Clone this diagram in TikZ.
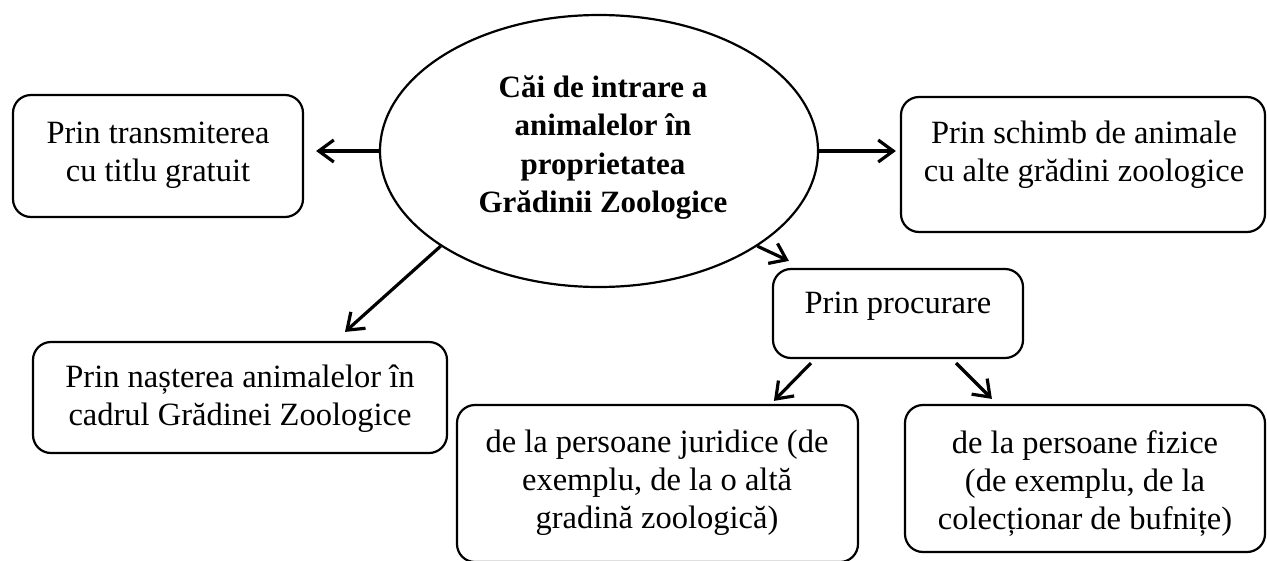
\documentclass[tikz,border=0pt]{standalone}
\usepackage{fontspec}
\setmainfont{Liberation Serif}
\usetikzlibrary{arrows.meta,calc,shapes.geometric}
\newcommand{\mlines}[1]{\begin{tabular}[t]{@{}c@{}}#1\end{tabular}}
\begin{document}
\begin{tikzpicture}[x=1pt,y=-1pt,
  box/.style={draw,line width=2.2pt,rounded corners=18pt,inner sep=0pt},
  oval/.style={draw,ellipse,line width=2.2pt,inner sep=0pt},
  txt/.style={inner sep=0pt,anchor=base,font=\fontsize{32.5}{38}\selectfont},
  ttl/.style={inner sep=0pt,anchor=base,font=\fontsize{31}{38.5}\selectfont\bfseries},
  arr/.style={line width=3.2pt,-{Straight Barb[length=15pt,width=22pt,line width=3.2pt]}}]
\useasboundingbox (0,0) rectangle (1267,560);
% shapes
\node[oval,minimum width=438pt,minimum height=272pt] (E) at (599,151) {};
\node[box,minimum width=290pt,minimum height=122pt] (L) at (158,156) {};
\node[box,minimum width=364pt,minimum height=135pt] (R) at (1083,164.5) {};
\node[box,minimum width=414pt,minimum height=111pt] (N) at (240,397.5) {};
\node[box,minimum width=250pt,minimum height=89pt] (P) at (898,313.5) {};
\node[box,minimum width=401pt,minimum height=157pt] (J) at (657.5,483.5) {};
\node[box,minimum width=360pt,minimum height=147pt] (F) at (1085,478.5) {};
% texts
\node[ttl] (Et) at (603,97) {\mlines{Căi de intrare a\\animalelor în\\proprietatea\\Grădinii Zoologice}};
\node[txt] (Lt) at (158,143) {\mlines{Prin transmiterea\\cu titlu gratuit}};
\node[txt] (Rt) at (1084,143) {\mlines{Prin schimb de animale\\cu alte grădini zoologice}};
\node[txt] (Nt) at (240,387) {\mlines{Prin nașterea animalelor în\\cadrul Grădinei Zoologice}};
\node[txt] (Pt) at (898,313) {Prin procurare};
\node[txt] (Jt) at (657,452) {\mlines{de la persoane juridice (de\\exemplu, de la o altă\\gradină zoologică)}};
\node[txt] (Ft) at (1085,453) {\mlines{de la persoane fizice\\(de exemplu, de la\\colecționar de bufnițe)}};
% connectors
\draw[arr,shorten >=12pt] (E.west) -- (E.west -| L.east);
\draw[arr,shorten >=4pt] (E.east) -- (E.east -| R.west);
\draw[arr] (E.211.9) -- ([xshift=105pt,yshift=9pt]N.north);
\draw[arr] (E.329.25) -- ([xshift=17pt,yshift=7pt]P.north west);
\draw[arr] ([xshift=39pt,yshift=-4pt]P.south west) -- ([xshift=318pt,yshift=3pt]J.north west);
\draw[arr] ([xshift=-68pt,yshift=-4pt]P.south east) -- ([xshift=88pt,yshift=5pt]F.north west);
\end{tikzpicture}
\end{document}
